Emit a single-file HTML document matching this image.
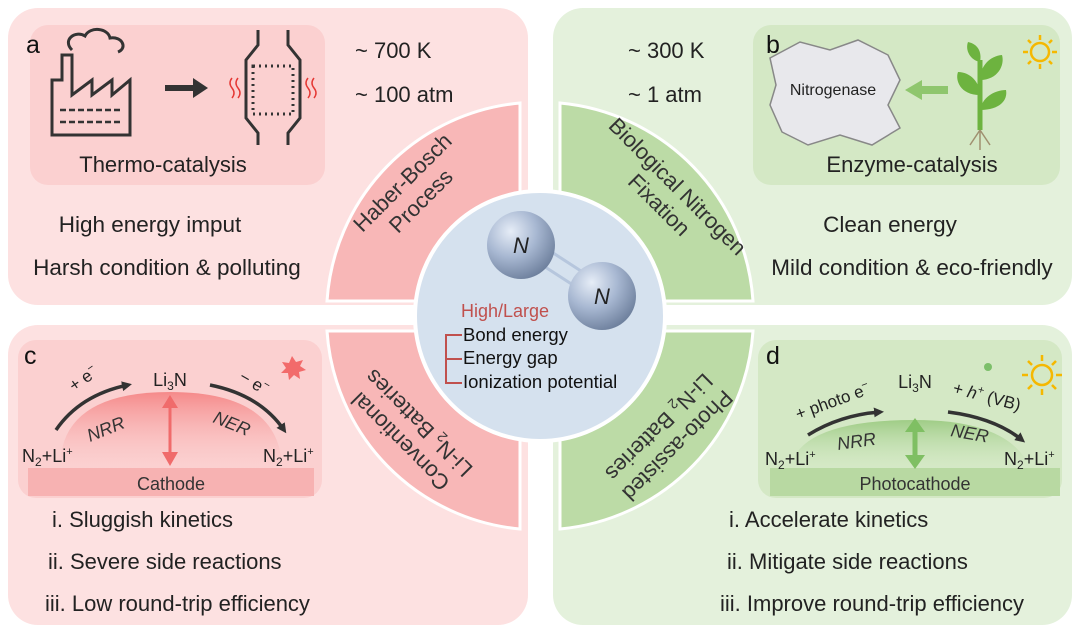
<!DOCTYPE html>
<html><head><meta charset="utf-8"><style>
html,body{margin:0;padding:0;background:#fff;}
svg{display:block;font-family:"Liberation Sans",sans-serif;}
</style></head><body>
<svg width="1080" height="633" viewBox="0 0 1080 633" xmlns="http://www.w3.org/2000/svg">
<defs>
<radialGradient id="ball" cx="0.35" cy="0.3" r="0.75">
<stop offset="0" stop-color="#e6edf7"/><stop offset="0.5" stop-color="#a8b8d2"/><stop offset="1" stop-color="#6d7f9c"/>
</radialGradient>
<linearGradient id="domeR" x1="0" y1="0" x2="0" y2="1"><stop offset="0" stop-color="#f58a8a"/><stop offset="1" stop-color="#fbd2d2" stop-opacity="0.3"/></linearGradient>
<linearGradient id="domeG" x1="0" y1="0" x2="0" y2="1"><stop offset="0" stop-color="#9fcc86"/><stop offset="1" stop-color="#d6eac8" stop-opacity="0.3"/></linearGradient>
<marker id="ah" markerWidth="10" markerHeight="10" refX="6" refY="5" orient="auto" markerUnits="userSpaceOnUse"><path d="M0,0 L10,5 L0,10 Z" fill="#333"/></marker>
</defs>

<rect x="8" y="8" width="520" height="297" rx="30" fill="#fde1e1"/>
<rect x="553" y="8" width="519" height="297" rx="30" fill="#e4f1dc"/>
<rect x="8" y="325" width="520" height="300" rx="30" fill="#fde1e1"/>
<rect x="553" y="325" width="519" height="300" rx="30" fill="#e4f1dc"/>
<rect x="30" y="25" width="295" height="160" rx="18" fill="#fbd0d0"/>
<rect x="753" y="25" width="307" height="160" rx="18" fill="#d4e8c5"/>
<rect x="18" y="340" width="304" height="158" rx="18" fill="#fbd0d0"/>
<rect x="758" y="340" width="304" height="158" rx="18" fill="#d4e8c5"/>

<g stroke="#fff" stroke-width="3">
<path d="M520,301 L327,301 A213,213 0 0 1 520,103 Z" fill="#f8b7b7"/>
<path d="M560,301 L560,103 A213,213 0 0 1 753,301 Z" fill="#bcdba6"/>
<path d="M520,331 L520,529 A213,213 0 0 1 327,331 Z" fill="#f8b7b7"/>
<path d="M560,331 L753,331 A213,213 0 0 1 560,529 Z" fill="#bcdba6"/>
</g>
<circle cx="540" cy="316" r="125" fill="#d5e1ee" stroke="#fff" stroke-width="4"/>

<g font-size="22" fill="#333" text-anchor="middle">
<text transform="translate(412,192) rotate(-45)"><tspan x="0" y="-6">Haber-Bosch</tspan><tspan x="0" y="20">Process</tspan></text>
<text transform="translate(668,196) rotate(45)"><tspan x="0" y="-6">Biological Nitrogen</tspan><tspan x="0" y="20">Fixation</tspan></text>
<text transform="translate(410,432) rotate(225)"><tspan x="0" y="-6">Conventional</tspan><tspan x="0" y="20">Li-N<tspan font-size="14" dy="4">2</tspan><tspan dy="-4"> Batteries</tspan></tspan></text>
<text transform="translate(668,436) rotate(135)"><tspan x="0" y="-6">Photo-assisted</tspan><tspan x="0" y="20">Li-N<tspan font-size="14" dy="4">2</tspan><tspan dy="-4"> Batteries</tspan></tspan></text>
</g>

<g stroke="#b6c6dd" stroke-width="3"><line x1="530" y1="238" x2="598" y2="282"/><line x1="522" y1="252" x2="590" y2="296"/></g>
<circle cx="521" cy="245" r="34" fill="url(#ball)"/>
<circle cx="602" cy="296" r="34" fill="url(#ball)"/>
<text x="521" y="253" font-size="22" font-style="italic" text-anchor="middle" fill="#222">N</text>
<text x="602" y="304" font-size="22" font-style="italic" text-anchor="middle" fill="#222">N</text>

<text x="461" y="317" font-size="18" fill="#c0504d">High/Large</text>
<g font-size="18.5" fill="#111">
<text x="463" y="341">Bond energy</text>
<text x="463" y="364">Energy gap</text>
<text x="463" y="388">Ionization potential</text>
</g>
<path d="M462,335 L446,335 L446,383 L462,383 M446,359 L462,359" fill="none" stroke="#c0504d" stroke-width="2"/>

<!-- panel a -->
<text x="26" y="53" font-size="25" fill="#111">a</text>
<g fill="none" stroke="#333" stroke-width="3">
<path d="M52,135 L52,80 L62,80 L62,55 L72,55 L72,95 L92,80 L92,95 L112,80 L112,95 L130,80 L130,135 Z"/>
<path d="M72,50 C62,40 75,30 85,36 C90,26 108,28 110,38 C122,36 128,48 118,52"/>
<path d="M60,110 h60 M60,122 h60" stroke-dasharray="6,3" stroke-width="2.5"/>
<path d="M258,30 L258,45 L246,60 L246,118 L258,133 L258,145 M288,30 L288,45 L300,60 L300,118 L288,133 L288,145"/>
</g>
<path d="M165,88 L195,88" stroke="#333" stroke-width="6"/><path d="M193,78 L208,88 L193,98 Z" fill="#333"/>
<rect x="253" y="66" width="40" height="48" fill="none" stroke="#333" stroke-width="3" stroke-dasharray="2,4"/>
<path d="M238,78 q-4,5 0,10 q4,5 0,10 M232,78 q-4,5 0,10 q4,5 0,10 M308,78 q-4,5 0,10 q4,5 0,10 M314,78 q-4,5 0,10 q4,5 0,10" stroke="#e53935" stroke-width="1.5" fill="none"/>
<text x="163" y="172" font-size="22" text-anchor="middle" fill="#222">Thermo-catalysis</text>
<text x="355" y="58" font-size="22" fill="#222">~ 700 K</text>
<text x="355" y="102" font-size="22" fill="#222">~ 100 atm</text>
<text x="150" y="232" font-size="22.5" text-anchor="middle" fill="#222">High energy imput</text>
<text x="167" y="275" font-size="22.5" text-anchor="middle" fill="#222">Harsh condition &amp; polluting</text>

<!-- panel b -->
<text x="766" y="53" font-size="25" fill="#111">b</text>
<path d="M770,58 L800,42 L830,50 L858,40 L888,55 L900,80 L888,105 L900,128 L872,145 L840,135 L808,145 L782,132 L770,105 L776,85 Z" fill="#e8e8ec" stroke="#888" stroke-width="1.5"/>
<text x="833" y="95" font-size="16" text-anchor="middle" fill="#222">Nitrogenase</text>
<path d="M948,90 L920,90" stroke="#8fc66e" stroke-width="8"/><path d="M922,80 L905,90 L922,100 Z" fill="#8fc66e"/>
<path d="M980,130 L980,60" stroke="#6db33f" stroke-width="5"/>
<path d="M980,95 C960,95 955,80 958,72 C970,72 980,82 980,95 Z M980,80 C998,80 1005,65 1002,55 C990,56 980,66 980,80 Z M980,62 C970,60 965,50 968,42 C978,44 982,52 980,62 Z M980,110 C1000,110 1008,100 1006,90 C994,90 982,98 980,110 Z" fill="#6db33f"/>
<path d="M980,130 l-10,15 M980,130 l10,15 M980,130 l0,20" stroke="#a09070" stroke-width="1.5"/>
<circle cx="1040" cy="52" r="9" fill="none" stroke="#f5b800" stroke-width="2.5"/>
<g stroke="#f5b800" stroke-width="2.5"><path d="M1040,35 v5 M1040,64 v5 M1023,52 h5 M1052,52 h5 M1028,40 l3,3 M1049,61 l3,3 M1052,40 l-3,3 M1031,61 l-3,3"/></g>
<text x="912" y="172" font-size="22" text-anchor="middle" fill="#222">Enzyme-catalysis</text>
<text x="628" y="58" font-size="22" fill="#222">~ 300 K</text>
<text x="628" y="102" font-size="22" fill="#222">~ 1 atm</text>
<text x="890" y="232" font-size="22.5" text-anchor="middle" fill="#222">Clean energy</text>
<text x="912" y="275" font-size="22.5" text-anchor="middle" fill="#222">Mild condition &amp; eco-friendly</text>

<!-- panel c -->
<text x="24" y="364" font-size="25" fill="#111">c</text>
<path d="M292,356 l4,6 l7,-2 l-3,6 l6,4 l-7,2 l1,7 l-6,-4 l-5,5 l-1,-7 l-7,0 l5,-5 l-4,-6 l7,1 Z" fill="#f26b6b"/>
<rect x="28" y="468" width="286" height="28" fill="#f7b2b2"/>
<text x="171" y="490" font-size="18" text-anchor="middle" fill="#333">Cathode</text>
<path d="M60,468 Q60,392 170,392 Q280,392 282,468 Z" fill="url(#domeR)"/>
<path d="M56,430 Q80,395 128,385" fill="none" stroke="#333" stroke-width="3.5" marker-end="url(#ah)"/>
<path d="M210,385 Q260,395 284,430" fill="none" stroke="#333" stroke-width="3.5" marker-end="url(#ah)"/>
<path d="M170,405 L170,455" stroke="#f06b6b" stroke-width="3"/>
<path d="M162,408 L170,395 L178,408 Z M162,452 L170,466 L178,452 Z" fill="#f06b6b"/>
<text x="170" y="386" font-size="18" text-anchor="middle" fill="#222">Li<tspan font-size="12" dy="4">3</tspan><tspan dy="-4">N</tspan></text>
<text transform="translate(74,392) rotate(-35)" font-size="17" fill="#222">+ e<tspan font-size="11" dy="-7">−</tspan></text>
<text transform="translate(238,380) rotate(30)" font-size="17" fill="#222">− e<tspan font-size="11" dy="-7">−</tspan></text>
<text transform="translate(90,442) rotate(-22)" font-size="18" font-style="italic" fill="#333">NRR</text>
<text transform="translate(212,422) rotate(22)" font-size="18" font-style="italic" fill="#333">NER</text>
<text x="22" y="462" font-size="18" fill="#222">N<tspan font-size="12" dy="4">2</tspan><tspan dy="-4">+Li</tspan><tspan font-size="11" dy="-7">+</tspan></text>
<text x="263" y="462" font-size="18" fill="#222">N<tspan font-size="12" dy="4">2</tspan><tspan dy="-4">+Li</tspan><tspan font-size="11" dy="-7">+</tspan></text>
<g font-size="22" fill="#222">
<text x="52" y="527">i. Sluggish kinetics</text>
<text x="48" y="569">ii. Severe side reactions</text>
<text x="45" y="611">iii. Low round-trip efficiency</text>
</g>

<!-- panel d -->
<text x="766" y="364" font-size="25" fill="#111">d</text>
<circle cx="988" cy="367" r="4" fill="#7cbf6a"/>
<circle cx="1042" cy="375" r="10" fill="none" stroke="#f5b800" stroke-width="2.5"/>
<g stroke="#f5b800" stroke-width="2.5"><path d="M1042,355 v6 M1042,389 v6 M1022,375 h6 M1056,375 h6 M1028,361 l4,4 M1052,385 l4,4 M1056,361 l-4,4 M1032,385 l-4,4"/></g>
<rect x="770" y="468" width="290" height="28" fill="#b8d9a2"/>
<text x="915" y="490" font-size="18" text-anchor="middle" fill="#333">Photocathode</text>
<path d="M790,468 Q800,420 915,420 Q1010,420 1030,468 Z" fill="url(#domeG)"/>
<path d="M808,435 Q840,415 880,412" fill="none" stroke="#333" stroke-width="3.5" marker-end="url(#ah)"/>
<path d="M948,412 Q995,418 1022,440" fill="none" stroke="#333" stroke-width="3.5" marker-end="url(#ah)"/>
<path d="M915,430 L915,458" stroke="#7fbf63" stroke-width="5"/>
<path d="M905,432 L915,418 L925,432 Z M905,455 L915,469 L925,455 Z" fill="#7fbf63"/>
<text x="915" y="388" font-size="18" text-anchor="middle" fill="#222">Li<tspan font-size="12" dy="4">3</tspan><tspan dy="-4">N</tspan></text>
<text transform="translate(798,420) rotate(-20)" font-size="17" fill="#222">+ photo e<tspan font-size="11" dy="-7">−</tspan></text>
<text transform="translate(952,393) rotate(15)" font-size="17" fill="#222">+ <tspan font-style="italic">h</tspan><tspan font-size="11" dy="-7">+</tspan><tspan dy="7"> (VB)</tspan></text>
<text transform="translate(838,450) rotate(-8)" font-size="18" font-style="italic" fill="#333">NRR</text>
<text transform="translate(950,436) rotate(10)" font-size="18" font-style="italic" fill="#333">NER</text>
<text x="765" y="465" font-size="18" fill="#222">N<tspan font-size="12" dy="4">2</tspan><tspan dy="-4">+Li</tspan><tspan font-size="11" dy="-7">+</tspan></text>
<text x="1004" y="465" font-size="18" fill="#222">N<tspan font-size="12" dy="4">2</tspan><tspan dy="-4">+Li</tspan><tspan font-size="11" dy="-7">+</tspan></text>
<g font-size="22" fill="#222">
<text x="729" y="527">i. Accelerate kinetics</text>
<text x="727" y="569">ii. Mitigate side reactions</text>
<text x="720" y="611">iii. Improve round-trip efficiency</text>
</g>
</svg>
</body></html>
